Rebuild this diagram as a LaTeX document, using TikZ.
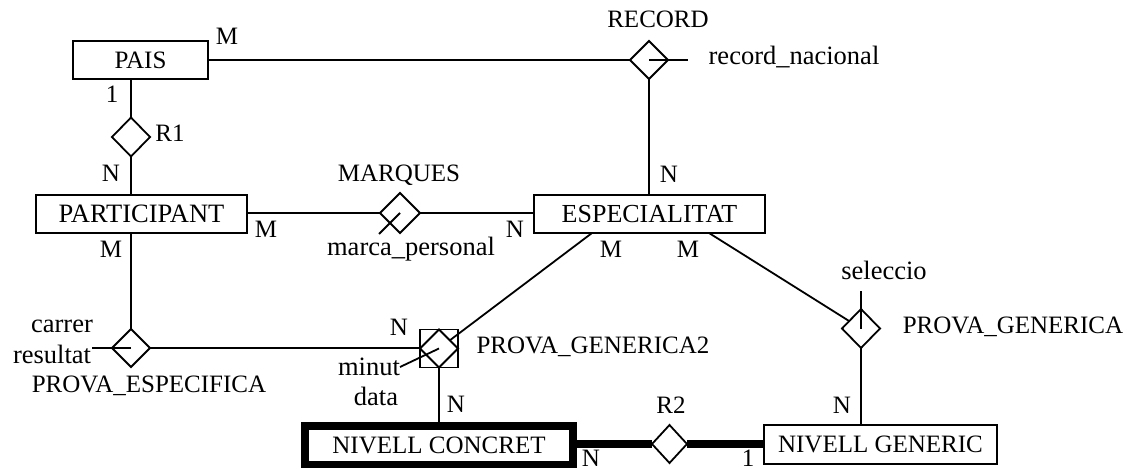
\documentclass[tikz,border=0pt]{standalone}
\usepackage{fontspec}
\setmainfont{Liberation Serif}
\usetikzlibrary{shapes.geometric,backgrounds}
\begin{document}
\begin{tikzpicture}[x=1pt,y=-1pt,
  every node/.style={font=\fontsize{25}{30}\selectfont},
  low/.style={font=\fontsize{26.5}{31}\selectfont},
  ent/.style={draw, line width=1.8pt, inner sep=0pt, outer sep=0pt, minimum height=38pt},
  weakent/.style={ent, line width=7.5pt},
  rel/.style={draw, diamond, line width=1.8pt, inner sep=0pt, outer sep=0pt, minimum width=38pt, minimum height=38pt, fill=white},
  sq/.style={draw, rectangle, line width=1.8pt, inner sep=0pt, outer sep=0pt, minimum width=38pt, minimum height=38pt},
  lbl/.style={anchor=base, inner sep=0pt},
  conn/.style={line width=1.8pt},
  thickconn/.style={line width=8pt}
]
\useasboundingbox (0,0) rectangle (1127,470);

% entities
\node[ent, minimum width=135pt] (pais) at (140.5,60) {PAIS};
\node[ent, minimum width=211pt, font=\fontsize{26.5}{31}\selectfont] (part) at (141.5,214) {PARTICIPANT};
\node[ent, minimum width=231pt, font=\fontsize{26}{31}\selectfont] (esp) at (649.5,214) {ESPECIALITAT};
\node[weakent, minimum width=268pt, minimum height=38.5pt] (nc) at (439,445) {NIVELL CONCRET};
\node[ent, minimum width=233pt, minimum height=39pt] (ng) at (880.5,444.5) {NIVELL GENERIC};

% relationships
\node[rel, minimum height=39pt] (r1) at (131,137) {};
\node[rel] (record) at (649,60) {};
\node[rel, minimum width=40pt, minimum height=40pt] (marques) at (400,213) {};
\node[rel] (pe) at (131,348) {};
\node[sq] (pg2) at (439,348.5) {};
\node[rel, fill=none] (pg2d) at (439,348.5) {};
\node[rel, minimum height=39pt] (pgen) at (861,328.5) {};
\node[rel, minimum width=35pt] (r2) at (669.5,444) {};

% attribute free ends
\coordinate (recA) at (688,60);
\coordinate (marA) at (379,234);
\coordinate (peA) at (92,348);
\coordinate (pg2A) at (400,367);
\coordinate (pgenA) at (861,291);
\coordinate (esp1) at ([xshift=58pt]esp.south west);
\coordinate (esp2) at ([xshift=-56pt]esp.south east);

\begin{scope}[on background layer]
\draw[conn] (pais.east |- record.west) -- (record.west);
\draw[conn] (pais.south -| r1.north) -- (r1.north);
\draw[conn] (r1.south) -- (r1.south |- part.north);
\draw[conn] (part.east |- marques.west) -- (marques.west);
\draw[conn] (marques.east) -- (marques.east -| esp.west);
\draw[conn] (record.south) -- (record.south |- esp.north);
\draw[conn] (part.south -| pe.north) -- (pe.north);
\draw[conn] (pe.east) -- (pe.east -| pg2.west);
\draw[conn] (pg2.south) -- (pg2.south |- nc.north);
\draw[conn] (esp1) -- (pg2d);
\draw[conn] (esp2) -- (pgen);
\draw[conn] (pgen.south) -- (pgen.south |- ng.north);
\draw[thickconn] (r2.west -| nc.east) -- (r2.west);
\draw[thickconn] (r2.east) -- (r2.east -| ng.west);
\end{scope}

% attribute strokes
\draw[conn] (record.center) -- (recA);
\draw[conn] (marques.center) -- (marA);
\draw[conn] (pe.center) -- (peA);
\draw[conn] (pg2d.center) -- (pg2A);
\draw[conn] (pgen.center) -- (pgenA);

% labels
\node[lbl] (lM1) at (227,45) {M};
\node[lbl] (l1a) at (112,103) {1};
\node[lbl] (lR1) at (170,142) {R1};
\node[lbl] (lN1) at (111,182) {N};
\node[lbl] (lREC) at (658,28) {RECORD};
\node[lbl, low] (lrecn) at (794,65) {record\_nacional};
\node[lbl] (lN2) at (669,183) {N};
\node[lbl] (lMAR) at (399,182) {MARQUES};
\node[lbl] (lM2) at (266,238) {M};
\node[lbl, low] (lmarca) at (411,256) {marca\_personal};
\node[lbl] (lN3) at (515,238) {N};
\node[lbl] (lM3) at (111,258) {M};
\node[lbl] (lM4) at (611,258) {M};
\node[lbl] (lM5) at (688,258) {M};
\node[lbl, low] (lsel) at (884,280) {seleccio};
\node[lbl] (lPG) at (1013,334) {PROVA\_GENERICA};
\node[lbl, low] (lcar) at (62,333) {carrer};
\node[lbl, low] (lres) at (52,363) {resultat};
\node[lbl] (lPE) at (149,392) {PROVA\_ESPECIFICA};
\node[lbl] (lN4) at (399,335) {N};
\node[lbl] (lPG2) at (593,353) {PROVA\_GENERICA2};
\node[lbl, low] (lmin) at (369,375) {minut};
\node[lbl, low] (ldata) at (376,405) {data};
\node[lbl] (lN5) at (456,412) {N};
\node[lbl] (lR2) at (671,413) {R2};
\node[lbl] (lN6) at (842,413) {N};
\node[lbl] (lN7) at (591,466) {N};
\node[lbl] (l1b) at (748,466) {1};
\end{tikzpicture}
\end{document}
